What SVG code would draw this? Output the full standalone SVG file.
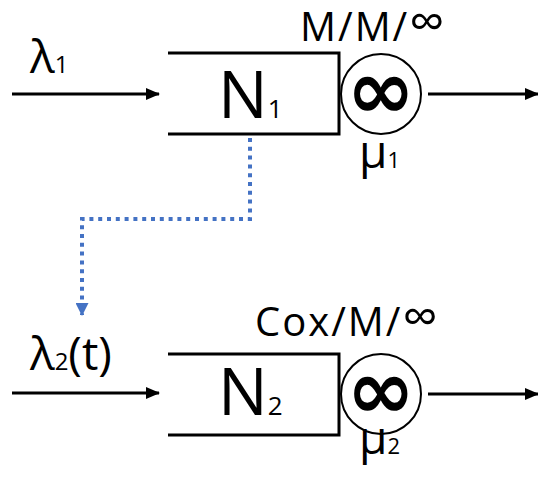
<svg xmlns="http://www.w3.org/2000/svg" width="538" height="477" viewBox="0 0 538 477">
<defs>
<style>
.ln{stroke:#000;stroke-width:3;fill:none}
.t{font-family:"Open Sans","Liberation Sans",sans-serif;fill:#000}
.lbl{font-size:40px;letter-spacing:2px}
.inf{font-family:"DejaVu Sans",sans-serif;font-weight:bold;font-size:82px;text-anchor:middle;fill:#000}
.srv{stroke:#000;stroke-width:2;fill:none}
.dot{stroke:#4472C4;stroke-width:4;fill:none;stroke-dasharray:4 4.8}
</style>
<marker id="ah" markerWidth="14" markerHeight="12" refX="13" refY="6" orient="auto" markerUnits="userSpaceOnUse"><path d="M0,0 L14,6 L0,12 Z" fill="#000"/></marker>
<marker id="bh" markerWidth="13" markerHeight="13" refX="12" refY="6.5" orient="auto" markerUnits="userSpaceOnUse"><path d="M0,0 L13,6.5 L0,13 Z" fill="#4472C4"/></marker>
</defs>
<rect width="538" height="477" fill="#fff"/>
<g id="connectors">
<line class="ln" x1="12" y1="94" x2="159" y2="94" marker-end="url(#ah)"/>
<line class="ln" x1="428" y1="94" x2="538" y2="94" marker-end="url(#ah)"/>
<line class="ln" x1="12" y1="393" x2="159" y2="393" marker-end="url(#ah)"/>
<line class="ln" x1="428" y1="394" x2="538" y2="394" marker-end="url(#ah)"/>
<path class="dot" d="M250,138 V219 H82 V315" marker-end="url(#bh)"/>
</g>
<g id="lambda1"><text class="t" x="30" y="73" font-size="46">λ<tspan font-size="24">1</tspan></text></g>
<g id="queue1">
<path class="ln" d="M168,53 H339 V134 H168"/>
<text class="t" x="218" y="118" font-size="66">N<tspan font-size="26">1</tspan></text>
<text class="t lbl" x="300" y="41">M/M/<tspan font-size="50" dy="-2">∞</tspan></text>
</g>
<g id="server1">
<circle class="srv" cx="381" cy="94" r="40"/>
<text class="inf" x="381" y="118">∞</text>
<text class="t" x="359" y="168" font-size="46">μ<tspan font-size="22">1</tspan></text>
</g>
<g id="lambda2"><text class="t" x="30" y="370" font-size="46">λ<tspan font-size="24">2</tspan>(t)</text></g>
<g id="queue2">
<path class="ln" d="M168,354 H339 V435 H168"/>
<text class="t" x="218" y="415" font-size="66">N<tspan font-size="26">2</tspan></text>
<text class="t lbl" x="255" y="336">Cox/M/<tspan font-size="50" dy="-2">∞</tspan></text>
</g>
<g id="server2">
<circle class="srv" cx="381" cy="394" r="40"/>
<text class="inf" x="381" y="418">∞</text>
<text class="t" x="359" y="454" font-size="46">μ<tspan font-size="22">2</tspan></text>
</g>
</svg>
